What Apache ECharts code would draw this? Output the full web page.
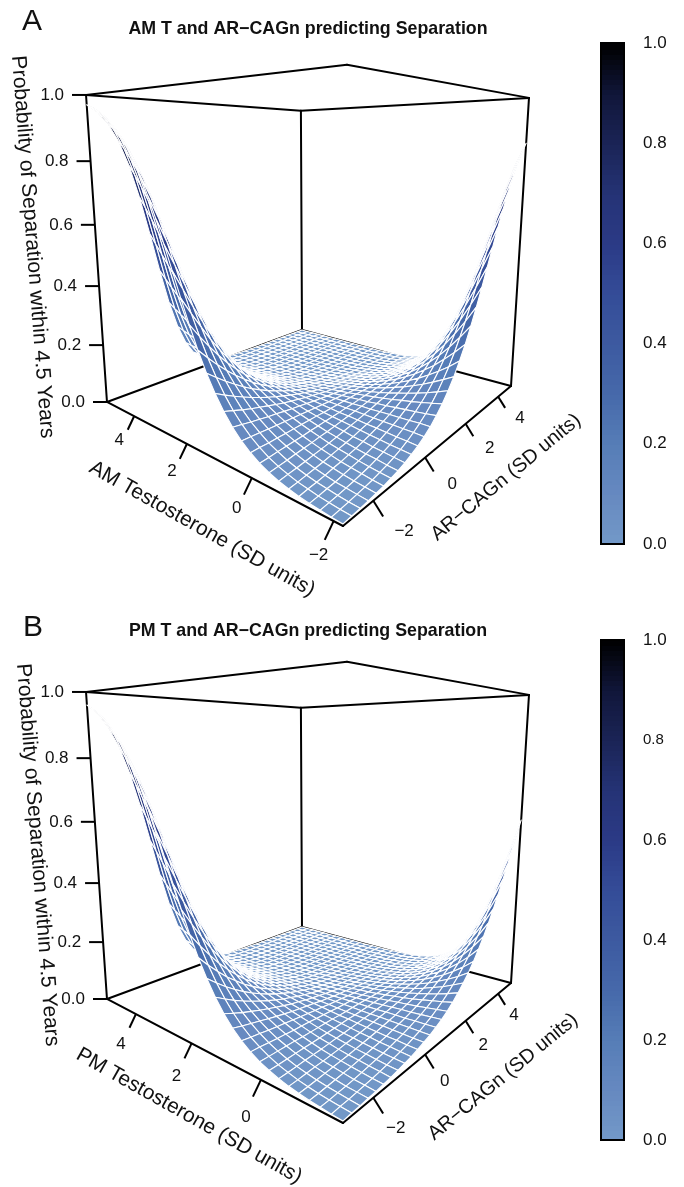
<!DOCTYPE html>
<html><head><meta charset="utf-8"><style>html,body{margin:0;padding:0;background:#fff}#c{width:684px;height:1187px}</style>
<script src="https://cdn.jsdelivr.net/npm/echarts@6/dist/echarts.min.js"></script></head><body><div id="c"></div>
<script>
// Estimated probability of separation (per mille) on the 31 x 31 mesh: rows = testosterone low to high, columns = AR-CAGn low to high.
const zAM=[
[5,7,9,11,14,17,22,27,34,43,53,66,82,102,125,153,185,223,265,313,365,420,478,536,595,648,699,745,787,823,854],
[7,9,11,14,17,20,25,30,37,45,55,67,81,97,117,140,167,197,232,271,313,359,408,459,510,561,611,659,704,745,782],
[10,12,14,17,20,24,28,34,40,47,56,67,79,93,109,128,150,174,202,232,266,302,342,384,427,471,516,561,605,647,687],
[13,15,18,20,24,28,32,37,43,50,58,67,77,89,102,117,134,153,174,197,223,251,281,313,347,383,420,458,496,535,573],
[17,20,22,25,29,32,37,41,47,53,60,67,76,85,96,107,120,134,150,167,185,206,227,251,275,302,329,358,388,419,450],
[23,25,28,31,34,38,42,46,50,56,61,67,74,81,89,98,107,117,128,140,153,167,181,197,214,231,250,269,290,311,334],
[30,33,35,38,41,44,47,51,55,59,63,68,72,78,83,89,96,102,110,117,125,134,143,153,163,173,184,196,208,221,234],
[40,42,44,47,49,51,54,56,59,62,65,68,71,74,78,81,85,89,93,98,102,107,112,117,122,127,133,139,145,151,158],
[53,54,56,57,58,59,61,62,64,65,66,68,69,71,73,74,76,77,79,81,83,85,86,88,90,92,94,96,98,100,103],
[70,70,69,69,69,69,69,69,69,68,68,68,68,68,68,68,67,67,67,67,67,67,67,66,66,66,66,66,66,65,65],
[91,89,87,84,82,80,78,76,74,72,70,68,67,65,63,61,60,58,57,55,54,52,51,50,48,47,46,44,43,42,41],
[118,113,107,102,97,93,88,84,80,76,72,69,65,62,59,56,53,50,48,45,43,41,39,37,35,33,31,30,28,27,25],
[152,142,132,123,115,107,99,92,86,80,74,69,64,59,55,51,47,44,40,37,34,32,30,27,25,23,22,20,18,17,16],
[193,177,162,148,135,123,112,102,93,84,76,69,62,56,51,46,42,38,34,31,28,25,22,20,18,16,15,13,12,11,10],
[242,219,197,177,158,141,126,112,100,88,78,69,61,54,47,42,37,32,28,25,22,19,17,15,13,11,10,9,8,7,6],
[299,267,237,210,185,162,141,123,107,93,80,69,60,51,44,38,33,28,24,20,18,15,13,11,9,8,7,6,5,4,4],
[364,322,283,247,214,185,158,135,115,98,82,70,58,49,41,34,29,24,20,17,14,12,10,8,7,6,5,4,3,3,2],
[433,382,334,288,247,210,177,148,124,103,85,70,57,47,38,31,25,21,17,14,11,9,7,6,5,4,3,3,2,2,1],
[505,446,388,334,283,238,197,163,133,108,87,70,56,45,36,28,22,18,14,11,9,7,6,4,3,3,2,2,1,1,1],
[577,512,446,382,322,268,219,178,142,113,89,70,55,43,33,26,20,15,12,9,7,5,4,3,2,2,1,1,1,1,1],
[646,577,505,433,364,300,243,194,153,119,92,70,54,41,31,23,18,13,10,7,6,4,3,2,2,1,1,1,1,0,0],
[709,640,564,486,408,335,269,211,163,125,94,71,52,39,29,21,15,11,8,6,4,3,2,2,1,1,1,0,0,0,0],
[765,698,622,539,454,371,296,230,175,131,97,71,51,37,27,19,14,10,7,5,4,3,2,1,1,1,0,0,0,0,0],
[813,751,676,591,500,409,324,249,187,137,99,71,50,35,25,17,12,8,6,4,3,2,1,1,1,0,0,0,0,0,0],
[853,797,726,641,546,448,354,270,200,144,102,71,49,34,23,16,11,7,5,3,2,1,1,1,0,0,0,0,0,0,0],
[886,836,770,688,592,488,385,292,213,151,105,71,48,32,21,14,9,6,4,3,2,1,1,0,0,0,0,0,0,0,0],
[912,869,810,732,636,528,417,314,227,158,107,71,47,31,20,13,8,5,3,2,1,1,0,0,0,0,0,0,0,0,0],
[933,896,844,771,677,567,450,338,241,166,110,72,46,29,18,12,7,5,3,2,1,1,0,0,0,0,0,0,0,0,0],
[949,918,873,806,717,606,483,362,257,173,113,72,45,28,17,10,6,4,2,1,1,0,0,0,0,0,0,0,0,0,0],
[961,936,897,837,753,643,516,387,272,182,116,72,44,27,16,9,6,3,2,1,1,0,0,0,0,0,0,0,0,0,0],
[971,950,917,864,786,679,550,413,289,190,119,72,43,25,15,9,5,3,2,1,0,0,0,0,0,0,0,0,0,0,0]];
const zPM=[
[5,7,8,10,11,14,16,20,24,28,34,41,48,58,68,81,96,114,134,156,182,212,244,280,319,360,404,449,495,541,587],
[7,9,10,12,14,16,19,22,26,30,35,41,48,56,65,76,88,102,118,135,155,178,203,230,260,292,327,363,401,440,480],
[10,11,13,14,16,19,22,25,28,32,37,42,48,55,62,71,81,91,103,117,132,148,167,187,209,232,258,285,314,344,376],
[13,14,16,18,20,22,25,28,31,34,38,43,48,53,59,66,74,82,91,101,111,123,136,150,165,182,199,218,238,259,282],
[17,18,20,22,24,26,28,31,34,37,40,44,48,52,57,62,67,73,79,86,94,102,110,119,129,140,151,163,176,189,204],
[22,23,25,27,28,30,32,35,37,39,42,45,48,51,54,58,61,65,69,74,79,84,89,94,100,107,113,120,127,135,143],
[29,30,31,33,34,35,37,39,40,42,44,46,47,49,51,54,56,58,61,63,66,68,71,74,77,80,84,87,91,94,98],
[38,38,39,40,41,41,42,43,44,45,46,46,47,48,49,50,51,52,53,54,55,56,57,58,59,60,61,63,64,65,66],
[49,49,49,49,49,48,48,48,48,48,47,47,47,47,47,47,46,46,46,46,46,46,45,45,45,45,45,45,44,44,44],
[64,63,61,59,58,56,55,54,52,51,50,48,47,46,45,43,42,41,40,39,38,37,36,35,34,33,32,32,31,30,29],
[83,79,76,72,69,66,63,60,57,54,52,49,47,45,42,40,39,37,35,33,32,30,29,27,26,25,23,22,21,20,19],
[107,100,94,88,82,76,71,66,62,58,54,50,47,43,40,38,35,33,30,28,26,24,23,21,20,18,17,16,15,14,13],
[137,126,115,106,97,89,81,74,67,62,56,51,47,42,39,35,32,29,26,24,22,20,18,16,15,13,12,11,10,9,8],
[174,157,141,127,114,103,92,82,73,66,58,52,46,41,37,33,29,26,23,20,18,16,14,13,11,10,9,8,7,6,5],
[218,194,172,152,134,118,104,91,80,70,61,53,46,40,35,30,26,23,20,17,15,13,11,10,8,7,6,5,5,4,4],
[269,237,208,181,158,136,118,101,87,74,63,54,46,39,33,28,24,20,17,15,12,10,9,7,6,5,5,4,3,3,2],
[327,286,249,214,184,157,133,112,94,79,66,55,46,38,32,26,22,18,15,12,10,8,7,6,5,4,3,3,2,2,1],
[392,342,295,252,213,179,150,124,102,84,69,56,46,37,30,24,20,16,13,10,8,7,5,4,3,3,2,2,1,1,1],
[460,401,345,293,246,204,168,137,111,89,72,57,46,36,29,23,18,14,11,9,7,5,4,3,3,2,2,1,1,1,1],
[530,464,400,338,282,232,188,151,120,95,75,58,46,35,27,21,16,13,10,7,6,4,3,3,2,2,1,1,1,1,0],
[599,528,456,387,321,262,210,167,130,101,78,60,45,34,26,20,15,11,8,6,5,4,3,2,2,1,1,1,0,0,0],
[664,591,514,437,363,294,234,183,141,107,81,61,45,34,25,18,13,10,7,5,4,3,2,2,1,1,1,0,0,0,0],
[723,651,572,489,407,329,260,201,153,114,84,62,45,33,24,17,12,9,6,5,3,2,2,1,1,1,0,0,0,0,0],
[776,707,628,541,452,366,287,220,165,121,88,63,45,32,22,16,11,8,5,4,3,2,1,1,1,0,0,0,0,0,0],
[821,757,681,593,498,404,317,240,178,128,91,64,45,31,21,15,10,7,5,3,2,2,1,1,0,0,0,0,0,0,0],
[858,801,729,642,545,444,347,262,191,136,95,66,45,30,20,14,9,6,4,3,2,1,1,0,0,0,0,0,0,0,0],
[889,839,772,688,590,484,379,285,206,144,99,67,44,29,19,13,8,5,4,2,1,1,0,0,0,0,0,0,0,0,0],
[914,871,811,732,634,524,412,308,221,153,103,68,44,29,18,12,8,5,3,2,1,1,0,0,0,0,0,0,0,0,0],
[933,897,844,771,676,565,446,333,237,162,107,69,44,28,17,11,7,4,3,2,1,1,0,0,0,0,0,0,0,0,0],
[949,918,872,805,715,604,481,359,254,171,111,71,44,27,17,10,6,4,2,1,1,0,0,0,0,0,0,0,0,0,0],
[961,936,896,836,752,642,515,386,272,181,116,72,44,27,16,9,6,3,2,1,1,0,0,0,0,0,0,0,0,0,0]];
const xTicksAM=[-2,0,2,4];
const xTicksPM=[0,2,4];
const yTicks=[-2,0,2,4];
const zTicks=[0,.2,.4,.6,.8,1];
const colorStops=[[0,'#7399c8'],[.1,'#6689c0'],[.2,'#567db7'],[.3,'#4669aa'],[.4,'#3d5aa0'],[.5,'#344c98'],[.6,'#2b3a86'],[.7,'#253376'],[.8,'#1a2456'],[.9,'#10163a'],[1,'#000000']];
const cam={x0:343,ax:-183.7,bx:467.2,cx:-42.8,y0:526,ay:72.6,by:86,cy:-470,g:.4891,h:.5855,k:-.1348};
const panels=[
 {dy:0,z:zAM,xMin:-2.2,xSpan:7.4,yMin:-2.96,ySpan:7.87,xTicks:xTicksAM,xLab:34.5,yLabX:33,yLabY:33},
 {dy:597,z:zPM,xMin:-1.87,xSpan:7.09,yMin:-2.96,ySpan:7.87,xTicks:xTicksPM,xLab:42,yLabX:24,yLabY:33}];
function proj(p,u,v,w){const D=1+cam.g*u+cam.h*v+cam.k*w;return {x:(cam.x0+cam.ax*u+cam.bx*v+cam.cx*w)/D,y:(cam.y0+cam.ay*u+cam.by*v+cam.cy*w)/D+p.dy,D};}
function colorOf(t){for(let i=1;i<colorStops.length;i++){if(t<=colorStops[i][0]){const a=colorStops[i-1],b=colorStops[i];return echarts.color.lerp((t-a[0])/(b[0]-a[0]),[a[1],b[1]]);}}return '#000';}
const backEdges=[[0,0,1,1,0,1],[1,0,1,1,1,1],[1,1,1,0,1,1],[0,1,1,0,0,1],[1,1,0,1,1,1],[1,0,0,1,0,1],[0,1,0,0,1,1],[1,0,0,1,1,0],[0,1,0,1,1,0]];
const frontEdges=[[0,0,0,1,0,0],[0,0,0,0,1,0]];
const FONT='"Liberation Sans",Arial,sans-serif';
function edgeSeries(p,edges,wd){return {type:'custom',xAxisIndex:0,yAxisIndex:0,clip:false,silent:true,data:edges,renderItem:(pr,api)=>{const e=edges[pr.dataIndex];const a=proj(p,e[0],e[1],e[2]),b=proj(p,e[3],e[4],e[5]);const c=api.coord([a.x,a.y]),d=api.coord([b.x,b.y]);return {type:'line',shape:{x1:c[0],y1:c[1],x2:d[0],y2:d[1]},style:{stroke:'#000',lineWidth:wd,lineCap:'round'}};}};}
function surfaceSeries(p){const cells=[];for(let i=p.z.length-2;i>=0;i--)for(let j=p.z[0].length-2;j>=0;j--)cells.push([i,j]);
 return {type:'custom',xAxisIndex:0,yAxisIndex:0,clip:false,silent:true,progressive:0,data:cells,renderItem:(pr,api)=>{const [i,j]=cells[pr.dataIndex];const n=p.z.length-1,m=p.z[0].length-1;const q=[[i,j],[i+1,j],[i+1,j+1],[i,j+1]];let s=0;const pts=q.map(([a,b])=>{const w=p.z[a][b]/1000;s+=w;const t=proj(p,a/n,b/m,w);return api.coord([t.x,t.y]);});return {type:'polygon',shape:{points:pts},style:{fill:colorOf(s/4),stroke:'#fff',lineWidth:1.1,lineJoin:'round'}};}};}
function tickSeries(p){const items=[];
 p.xTicks.forEach(t=>items.push({k:'x',t}));yTicks.forEach(t=>items.push({k:'y',t}));zTicks.forEach(t=>items.push({k:'z',t}));
 return {type:'custom',xAxisIndex:0,yAxisIndex:0,clip:false,silent:true,data:items,renderItem:(pr,api)=>{const it=items[pr.dataIndex];let b,ex,ey,lx,ly,txt,align='center';
  if(it.k==='x'){b=proj(p,(it.t-p.xMin)/p.xSpan,0,0);ex=-9/b.D;ey=19/b.D;lx=-15;ly=p.xLab/b.D;txt=String(it.t).replace('-','\u2212');}
  else if(it.k==='y'){b=proj(p,0,(it.t-p.yMin)/p.ySpan,0);ex=10.5/b.D;ey=17/b.D;lx=p.yLabX/b.D;ly=p.yLabY/b.D;txt=String(it.t).replace('-','\u2212');}
  else {b=proj(p,1,0,it.t);ex=-14;ey=0;lx=-22;ly=0;txt=it.t.toFixed(1);align='right';}
  const c=api.coord([b.x,b.y]),d=api.coord([b.x+ex,b.y+ey]),l=api.coord([b.x+lx,b.y+ly]);
  return {type:'group',children:[{type:'line',shape:{x1:c[0],y1:c[1],x2:d[0],y2:d[1]},style:{stroke:'#000',lineWidth:2}},{type:'text',style:{x:l[0],y:l[1],text:txt,font:'17px '+FONT,fill:'#111',align,verticalAlign:'middle'}}]};}};}
const levels=[];for(let i=0;i<100;i++)levels.push(i/100);
function barSeries(idx){return {type:'custom',xAxisIndex:idx,yAxisIndex:idx,silent:true,data:levels,renderItem:(pr,api)=>{const t=levels[pr.dataIndex];const a=api.coord([0,t]),b=api.coord([1,t+.01]);return {type:'rect',shape:{x:a[0],y:Math.floor(b[1]),width:b[0]-a[0],height:Math.ceil(a[1]-b[1])+1},style:{fill:colorOf(t+.005)}};}};}
const T='Probability of Separation within 4.5 Years';
function txt(x,y,rotation,text,size){return {type:'text',x,y,rotation,style:{text,font:size+'px '+FONT,fill:'#111',align:'center',verticalAlign:'middle'}};}
const opt={animation:false,backgroundColor:'#fff',
 title:[{text:'AM T and AR\u2212CAGn predicting Separation',left:308,top:20,textAlign:'center',padding:0,textStyle:{fontFamily:FONT,fontSize:17.8,fontWeight:'bold',color:'#111'}},
  {text:'PM T and AR\u2212CAGn predicting Separation',left:308,top:622,textAlign:'center',padding:0,textStyle:{fontFamily:FONT,fontSize:17.8,fontWeight:'bold',color:'#111'}},
  {text:'A',left:22,top:7,padding:0,textStyle:{fontFamily:FONT,fontSize:30,fontWeight:'normal',color:'#111'}},
  {text:'B',left:23,top:613,padding:0,textStyle:{fontFamily:FONT,fontSize:30,fontWeight:'normal',color:'#111'}}],
 grid:[{left:0,top:0,width:684,height:1187},{left:601,top:43,width:23,height:501,show:true,borderColor:'#000',borderWidth:2,z:5},{left:601,top:640,width:23,height:500,show:true,borderColor:'#000',borderWidth:2,z:5}],
 xAxis:[{gridIndex:0,type:'value',min:0,max:684,show:false},{gridIndex:1,type:'value',min:0,max:1,show:false},{gridIndex:2,type:'value',min:0,max:1,show:false}],
 yAxis:[{gridIndex:0,type:'value',min:0,max:1187,inverse:true,show:false},
  ...[1,2].map(g=>({gridIndex:g,type:'value',position:'right',min:0,max:1,interval:.2,splitLine:{show:false},axisLine:{show:true,lineStyle:{color:'#000',width:2}},axisTick:{show:true,length:10,lineStyle:{color:'#000',width:2}},axisLabel:{margin:19,color:'#111',fontFamily:FONT,fontSize:17,formatter:v=>(g===2&&Math.abs(v-.8)<1e-6)?'{s|0.8}':v.toFixed(1),rich:{s:{fontSize:15,fontFamily:FONT,color:'#111'}}}}))],
 graphic:[txt(32.5,247,-1.494,T,21.1),txt(37.5,855,-1.494,T,21.1),
  txt(202,529,-.513,'AM Testosterone (SD units)',20.9),txt(189,1116,-.513,'PM Testosterone (SD units)',20.9),
  txt(506,477.5,.69,'AR\u2212CAGn (SD units)',19.9),txt(503,1077,.69,'AR\u2212CAGn (SD units)',19.9)],
 series:[]};
panels.forEach(p=>{opt.series.push(edgeSeries(p,backEdges,2),tickSeries(p),surfaceSeries(p),edgeSeries(p,frontEdges,2));});
opt.series.push(barSeries(1),barSeries(2));
echarts.init(document.getElementById('c'),null,{renderer:'canvas'}).setOption(opt);
</script></body></html>
